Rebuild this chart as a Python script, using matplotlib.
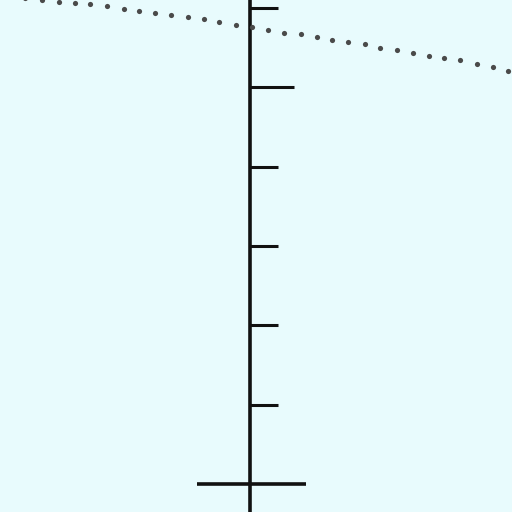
import numpy as np
import matplotlib.pyplot as plt

# dotted curve
curve_x = [-3.05, -2.83, -2.62, -2.41, -2.20, -2.02, -1.80, -1.59, -1.40, -1.20, -0.99,
           -0.78, -0.58, -0.39, -0.18, 0.03, 0.23, 0.43, 0.64, 0.84, 1.03, 1.23,
           1.45, 1.64, 1.85, 2.05, 2.25, 2.44, 2.64, 2.86, 3.06, 3.25]
curve_y = [6.16, 6.13, 6.10, 6.07, 6.06, 6.05, 6.02, 5.99, 5.96, 5.93, 5.91,
           5.88, 5.86, 5.82, 5.78, 5.76, 5.72, 5.69, 5.67, 5.63, 5.60, 5.57,
           5.54, 5.50, 5.47, 5.43, 5.40, 5.37, 5.34, 5.30, 5.25, 5.21]

# tick marks on the vertical axis
tick_y = [1, 2, 3, 4, 5, 6]
tick_len = [0.35, 0.35, 0.35, 0.35, 0.56, 0.35]

# base bar
base_left = -0.67
base_right = 0.70

fig = plt.figure(figsize=(5.12, 5.12), dpi=100)
ax = fig.add_axes([0, 0, 1, 1])
fig.patch.set_facecolor('#e8fbfd')
ax.set_facecolor('#e8fbfd')

ax.axvline(0, color='#111111', lw=2.6)
for y, l in zip(tick_y, tick_len):
    ax.plot([0, l], [y, y], color='#111111', lw=2.2, solid_capstyle='butt')
ax.plot([base_left, base_right], [0, 0], color='#111111', lw=2.6, solid_capstyle='butt')

ax.scatter(curve_x, curve_y, s=14, color='#4a4a4a', zorder=3, linewidths=0)

ax.set_xlim(-3.15, 3.30)
ax.set_ylim(-0.35, 6.10)
ax.axis('off')

plt.savefig('out.png', dpi=100, facecolor=fig.get_facecolor())
